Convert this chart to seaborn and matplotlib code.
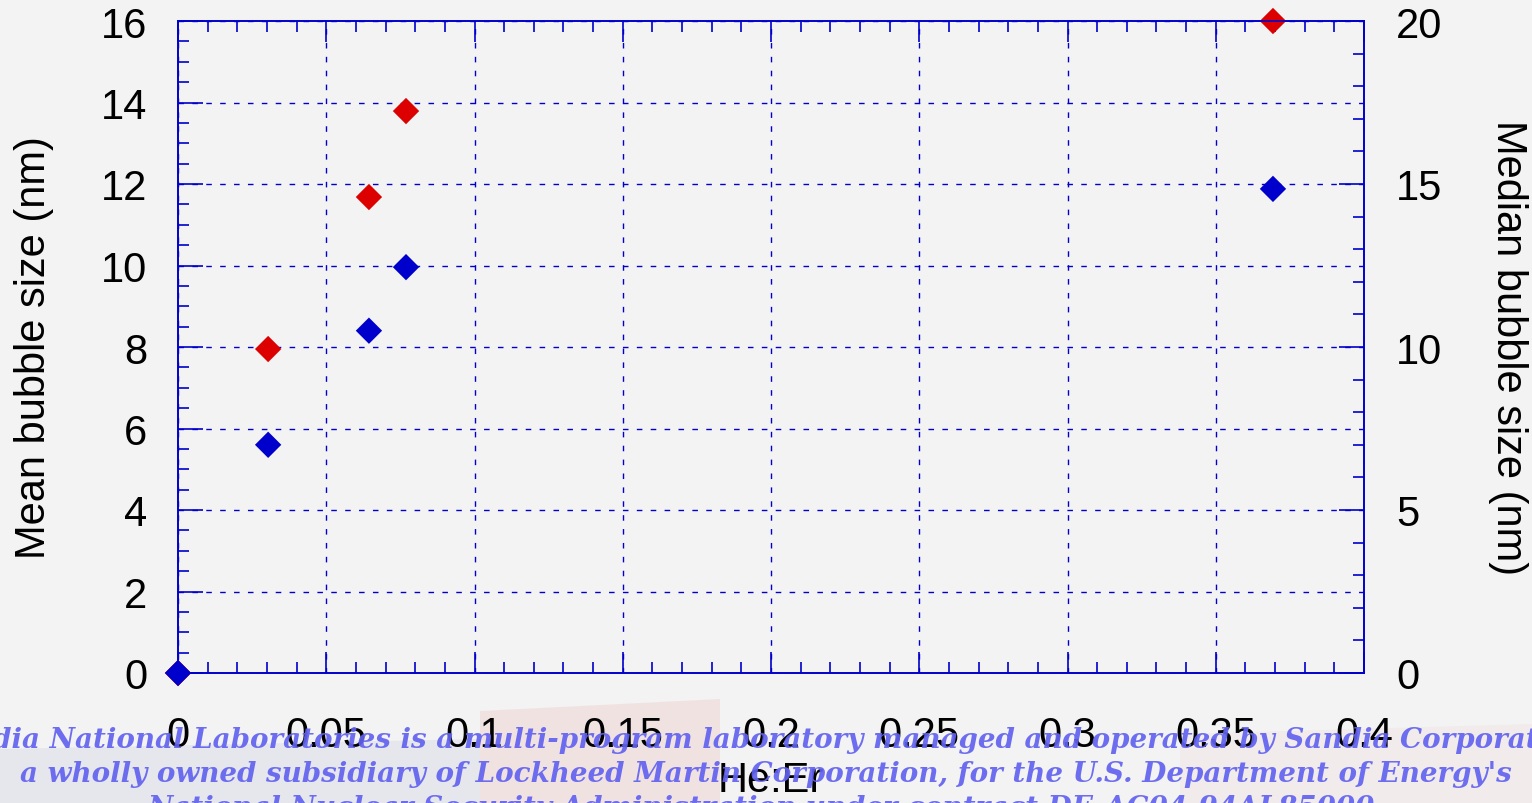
import numpy as np
import pandas as pd
import matplotlib
matplotlib.use("Agg")
import matplotlib.pyplot as plt
from matplotlib.ticker import MultipleLocator
import seaborn as sns

# ---- data ----
he_er = [0.0, 0.0304, 0.0644, 0.0769, 0.3693]
mean_size = [0.0, 7.95, 11.68, 13.79, 16.0]
median_size = [0.0, 7.0, 10.5, 12.45, 14.85]
x_ticks = [0, 0.05, 0.1, 0.15, 0.2, 0.25, 0.3, 0.35, 0.4]
x_tick_labels = ["0", "0.05", "0.1", "0.15", "0.2", "0.25", "0.3", "0.35", "0.4"]
left_ticks = [0, 2, 4, 6, 8, 10, 12, 14, 16]
right_ticks = [0, 5, 10, 15, 20]
watermark = [
    "Sandia National Laboratories is a multi-program laboratory managed and operated by Sandia Corporation,",
    "a wholly owned subsidiary of Lockheed Martin Corporation, for the U.S. Department of Energy's",
    "National Nuclear Security Administration under contract DE-AC04-94AL85000.",
]

sns.set_theme(style="white")
plt.rcParams['font.family'] = ['Liberation Sans', 'DejaVu Sans']
plt.rcParams['text.color'] = 'black'
plt.rcParams['axes.labelcolor'] = 'black'

BG = "#f3f3f3"
BLUE = "#0000cc"
fig = plt.figure(figsize=(15.32, 8.04), dpi=100, facecolor=BG)

# faint flag-like background at the bottom
bg = fig.add_axes([0, 0, 1, 1], zorder=-10)
bg.set_xlim(0, 1532); bg.set_ylim(804, 0); bg.axis("off")
bg.fill([480, 720, 720, 480], [712, 700, 804, 804], color="#f0d8d8", alpha=0.6, lw=0)
bg.fill([0, 480, 480, 0], [750, 740, 804, 804], color="#e2e5ec", alpha=0.8, lw=0)
bg.fill([1180, 1532, 1532, 1180], [735, 725, 804, 804], color="#f0e0e0", alpha=0.4, lw=0)

df = pd.DataFrame({"x": he_er, "mean": mean_size, "median": median_size})

ax = fig.add_axes([178/1532, 1-674/804, (1364-178)/1532, (674-22)/804])
ax.set_facecolor(BG)
ax2 = ax.twinx()

sns.scatterplot(data=df, x="x", y="mean", ax=ax, marker="D", s=180,
                color="#dd0000", edgecolor="none", zorder=5, clip_on=False)
sns.scatterplot(data=df, x="x", y="median", ax=ax2, marker="D", s=180,
                color=BLUE, edgecolor="none", zorder=5, clip_on=False)

ax.set_xlim(0, 0.4)
ax.set_ylim(0, 16)
ax2.set_ylim(0, 20)

ax.set_xticks(x_ticks)
ax.set_xticklabels(x_tick_labels)
ax.set_yticks(left_ticks)
ax2.set_yticks(right_ticks)
ax.xaxis.set_minor_locator(MultipleLocator(0.01))
ax.yaxis.set_minor_locator(MultipleLocator(0.5))
ax2.yaxis.set_minor_locator(MultipleLocator(1))

ax.grid(True, which="major", color=BLUE, linestyle=(0, (4, 6)), linewidth=1.0)
ax2.grid(False)

for a in (ax, ax2):
    for s in a.spines.values():
        s.set_color(BLUE)
        s.set_linewidth(1.2)

FS = 30
ax.tick_params(axis="x", which="major", direction="in", length=15, width=1.2, color=BLUE,
               top=True, bottom=True, labelsize=FS, pad=30, labelcolor="black")
ax.tick_params(axis="x", which="minor", direction="in", length=8, width=1.2, color=BLUE,
               top=True, bottom=True)
ax.tick_params(axis="y", which="major", direction="in", length=18, width=1.2, color=BLUE,
               labelsize=FS, pad=22, labelcolor="black")
ax.tick_params(axis="y", which="minor", direction="in", length=8, width=1.2, color=BLUE)
ax2.tick_params(axis="y", which="major", direction="in", length=18, width=1.2, color=BLUE,
                labelsize=FS, pad=23, labelcolor="black")
ax2.tick_params(axis="y", which="minor", direction="in", length=8, width=1.2, color=BLUE)

ax.set_xlabel("He:Er", fontsize=FS, labelpad=4)
ax.set_ylabel("Mean bubble size (nm)", fontsize=FS, labelpad=34)
ax2.set_ylabel("Median bubble size (nm)", fontsize=FS, rotation=270, labelpad=62)

# watermark
for i, line in enumerate(watermark):
    fig.text(0.5, 1 - (741 + 34 * i) / 804, line, ha="center", va="center",
             fontsize=20, family="DejaVu Serif", style="italic", weight="bold",
             color="#6262f0", alpha=0.92, zorder=20)

fig.savefig("out.png", dpi=100, facecolor=BG)
